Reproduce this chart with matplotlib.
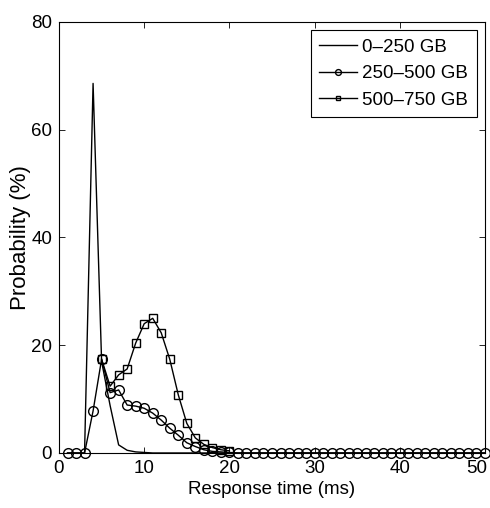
import numpy as np
import matplotlib
matplotlib.use("Agg")
import matplotlib.pyplot as plt
from matplotlib.transforms import ScaledTranslation

plt.rcParams['font.family'] = ['Liberation Sans', 'DejaVu Sans']

# Response time grid (ms)
t_small = np.arange(1, 51)
t_large = np.arange(5, 21)

# Probability (%) per response time, for each disk-usage group
p_0_250 = [0, 0, 0, 68.6, 17.0, 8.8, 1.5, 0.5, 0.2, 0.1] + [0.0] * 40
p_250_500 = [0, 0, 0, 7.8, 17.4, 11.2, 11.7, 8.9, 8.7, 8.3,
             7.4, 6.1, 4.6, 3.3, 1.9, 1.2, 0.6, 0.3, 0.2, 0.1] + [0.0] * 30
p_500_750 = [17.4, 12.4, 14.5, 15.6, 20.4, 24.0, 25.0, 22.3,
             17.4, 10.8, 5.5, 2.8, 1.6, 1.0, 0.6, 0.4]

labels = ['0\u2013250 GB', '250\u2013500 GB', '500\u2013750 GB']

fig = plt.figure(figsize=(4.9, 5.08), dpi=100)
ax = fig.add_axes([0.1204, 0.1083, 0.8694, 0.8484])

ax.plot(t_small, p_0_250, color='black', lw=1.0, label=labels[0])
ax.plot(t_small, p_250_500, color='black', lw=1.0, marker='o', ms=7,
        mfc='none', mec='black', mew=1.0, label=labels[1], clip_on=False)
ax.plot(t_large, p_500_750, color='black', lw=1.0, marker='s', ms=6,
        mfc='none', mec='black', mew=1.0, label=labels[2], clip_on=False)

ax.set_xlim(0, 50)
ax.set_ylim(0, 80)
ax.set_xticks(range(0, 51, 10))
ax.set_yticks(range(0, 81, 20))
ax.tick_params(direction='in', top=True, right=True, labelsize=13.5,
               length=4, width=0.6, pad=5)
for s in ax.spines.values():
    s.set_linewidth(0.8)

# keep the last x tick label inside the canvas
last = ax.get_xticklabels()[-1]
last.set_transform(last.get_transform() +
                   ScaledTranslation(-6 / 72, 0, fig.dpi_scale_trans))

ax.set_xlabel('Response time (ms)', fontsize=13.5, labelpad=3)
ax.set_ylabel('Probability (%)', fontsize=16, labelpad=0)

leg = ax.legend(loc='upper right', fontsize=13.5, frameon=True, fancybox=False,
                edgecolor='black', framealpha=1, markerscale=0.6,
                handlelength=2.0, handletextpad=0.3, borderaxespad=0.45,
                labelspacing=0.5, borderpad=0.45)
leg.get_frame().set_linewidth(0.8)

fig.savefig('out.png', dpi=100)
